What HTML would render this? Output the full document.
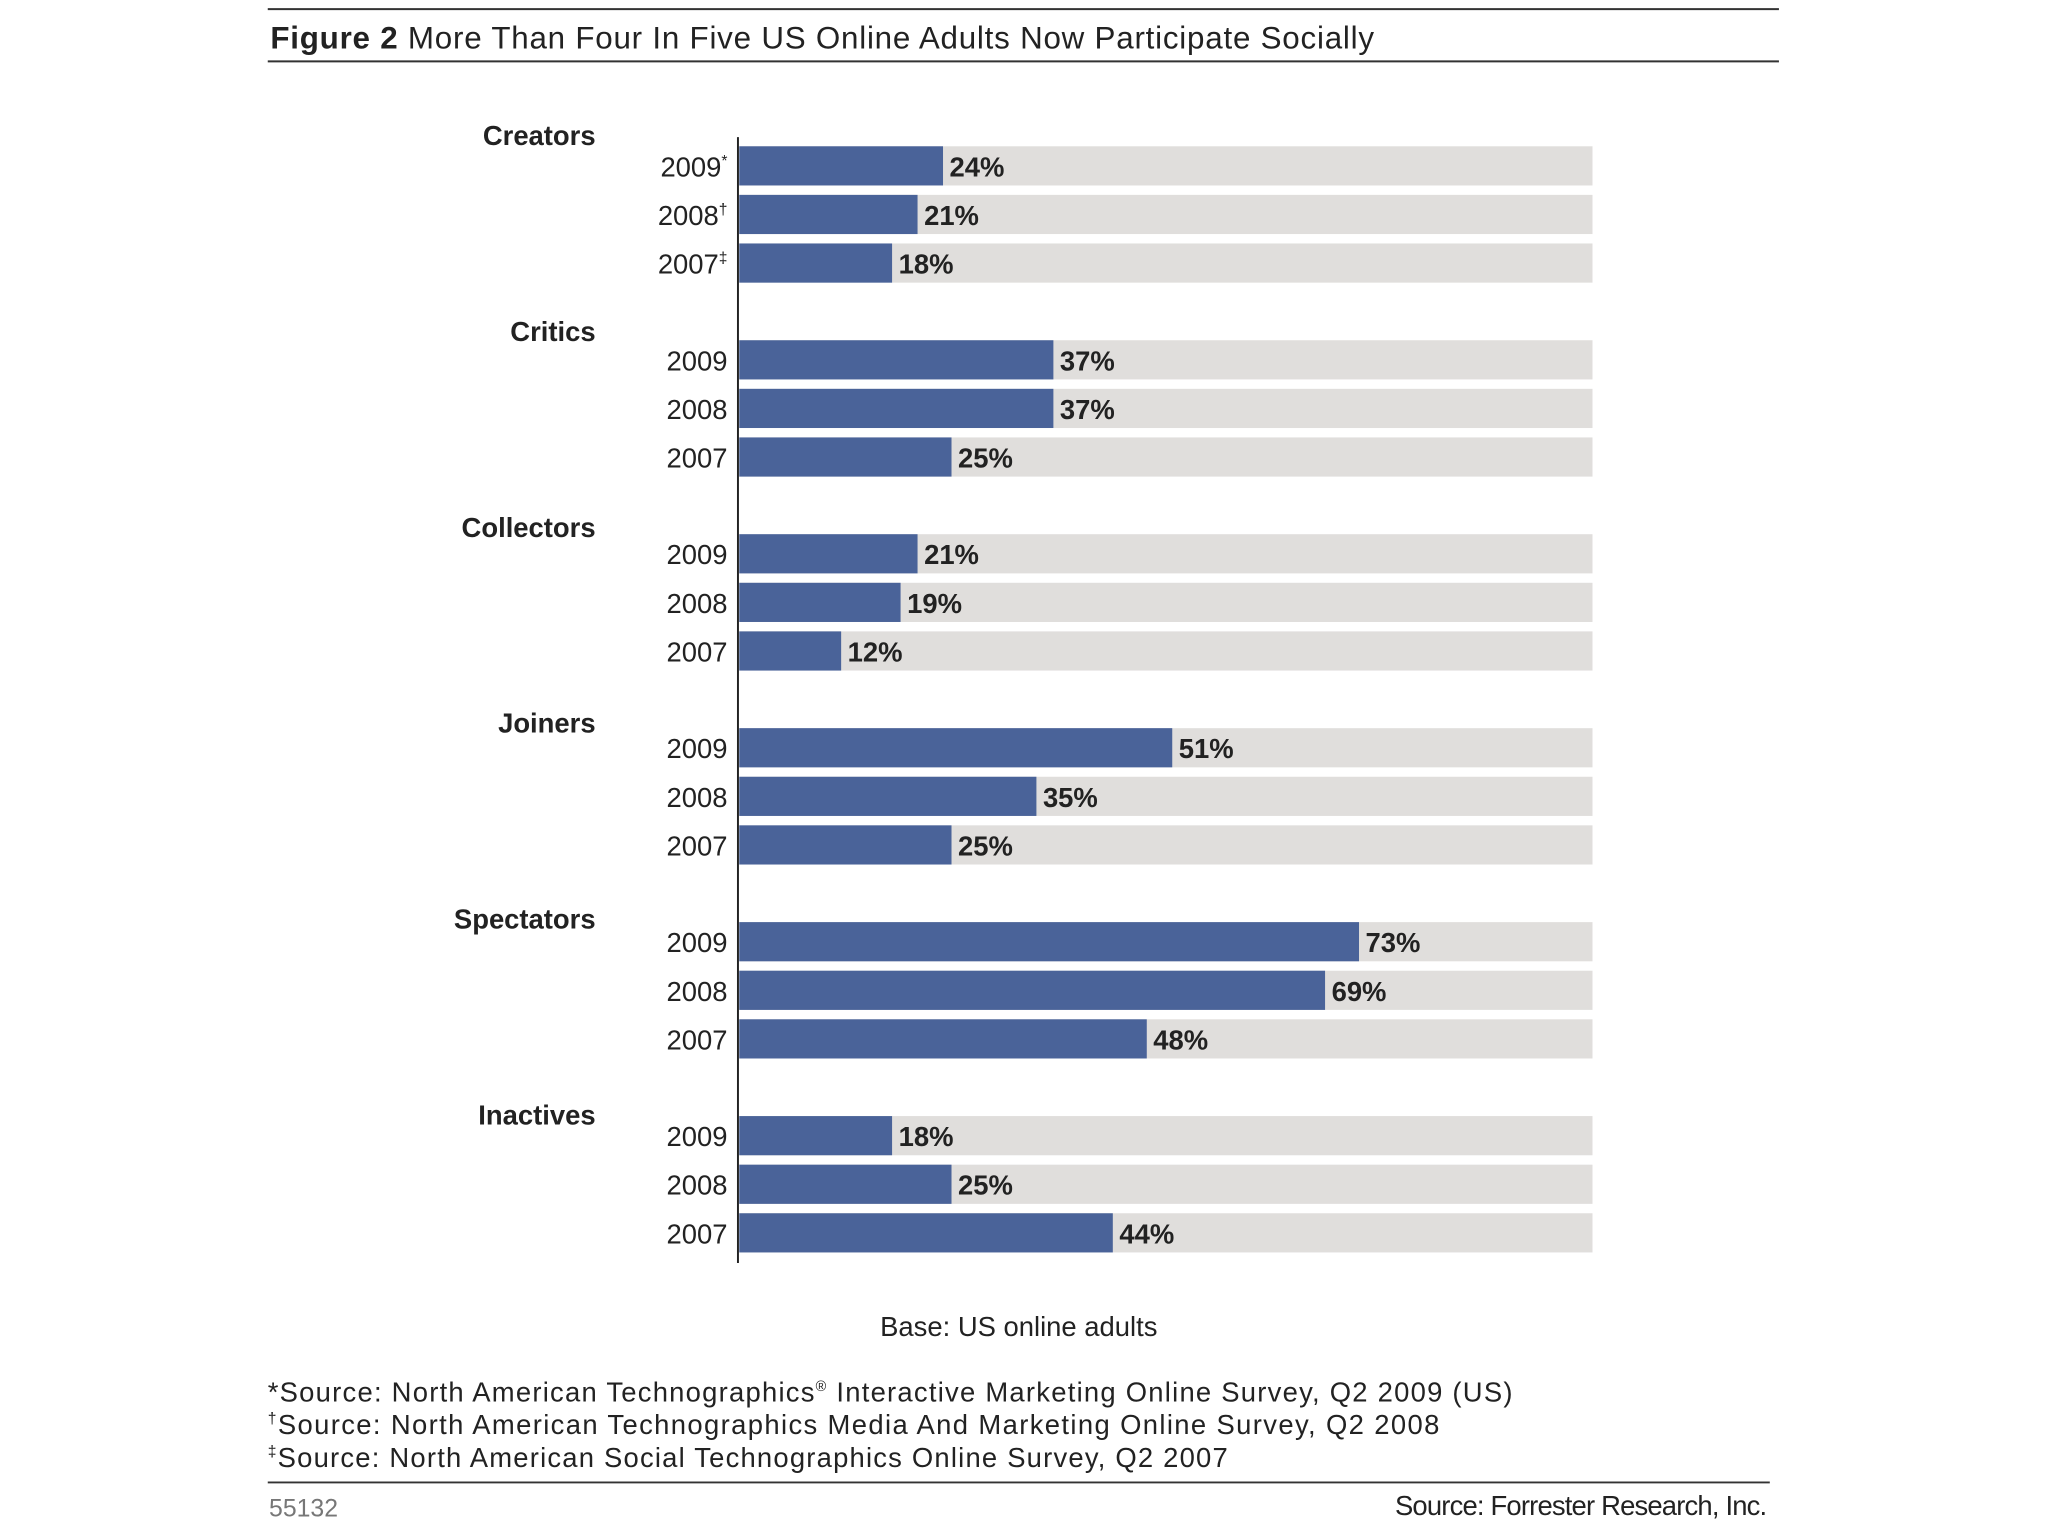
<!DOCTYPE html>
<html><head><meta charset="utf-8">
<style>
html,body{margin:0;padding:0;background:#fff;}
svg{display:block;font-family:"Liberation Sans","DejaVu Sans",sans-serif;}
</style></head>
<body>
<svg id="chart" width="2048" height="1536" viewBox="0 0 1568 1176" xmlns="http://www.w3.org/2000/svg">
  <rect x="0" y="0" width="1568" height="1176" fill="#fff"/>
  <line x1="205" y1="7" x2="1362" y2="7" stroke="#333" stroke-width="1.5"/>
  <text x="207" y="37" font-size="24" fill="#222" textLength="845" lengthAdjust="spacing"><tspan font-weight="bold">Figure 2</tspan> More Than Four In Five US Online Adults Now Participate Socially</text>
  <line x1="205" y1="47" x2="1362" y2="47" stroke="#333" stroke-width="1.5"/>
  <g id="bars"></g>
  <line x1="565" y1="105" x2="565" y2="967" stroke="#222" stroke-width="1.5"/>
  <text x="780" y="1023" font-size="21" text-anchor="middle" fill="#222">Base: US online adults</text>
  <text x="205" y="1073" font-size="21" fill="#222" textLength="953" lengthAdjust="spacing">*Source: North American Technographics<tspan font-size="11" dy="-8">®</tspan><tspan dy="8"> Interactive Marketing Online Survey, Q2 2009 (US)</tspan></text>
  <text x="205" y="1098" font-size="21" fill="#222" textLength="897" lengthAdjust="spacing"><tspan font-size="12" dy="-8">†</tspan><tspan dy="8">Source: North American Technographics Media And Marketing Online Survey, Q2 2008</tspan></text>
  <text x="205" y="1123" font-size="21" fill="#222" textLength="735" lengthAdjust="spacing"><tspan font-size="12" dy="-8">‡</tspan><tspan dy="8">Source: North American Social Technographics Online Survey, Q2 2007</tspan></text>
  <line x1="205" y1="1135" x2="1355" y2="1135" stroke="#333" stroke-width="1.5"/>
  <text x="206" y="1161" font-size="19" fill="#777">55132</text>
  <text x="1353" y="1160" font-size="21" text-anchor="end" fill="#222" textLength="285" lengthAdjust="spacing">Source: Forrester Research, Inc.</text>
</svg>
<script>
const groups = ["Creators","Critics","Collectors","Joiners","Spectators","Inactives"];
const years = ["2009","2008","2007"];
const yearMarks = [["*","†","‡"],["","",""],["","",""],["","",""],["","",""],["","",""]];
const values = [[24,21,18],[37,37,25],[21,19,12],[51,35,25],[73,69,48],[18,25,44]];
const NS = "http://www.w3.org/2000/svg";
const g = document.getElementById("bars");
const x0 = 566, pxPerPct = 6.5, trackMax = 100.5;
function xScale(v){ return x0 + v*pxPerPct; }
function rowY(gi, ri){ return 127 + gi*148.5 + ri*37.2; }
function mk(tag, attrs){ const e=document.createElementNS(NS,tag); for(const k in attrs) e.setAttribute(k,attrs[k]); g.appendChild(e); return e; }
groups.forEach((name, gi) => {
  const gl = mk("text",{x:456,y:rowY(gi,0)-16+gi*1.5,"font-size":21,"font-weight":"bold","text-anchor":"end",fill:"#222"});
  gl.textContent = name;
  
  
  years.forEach((yr, ri) => {
    const v = values[gi][ri];
    const cy = rowY(gi, ri);
    const track = mk("rect",{x:x0,y:cy-15,width:xScale(trackMax)-x0,height:30,fill:"#e0dedc"});
    
    
    const bar = mk("rect",{x:x0,y:cy-15,width:xScale(v)-x0,height:30,fill:"#4a6399"});
    
    
    const yl = mk("text",{x:557,y:cy+8,"font-size":21,"text-anchor":"end",fill:"#222"});
    yl.textContent = yr;
    const mark = yearMarks[gi][ri];
    if (mark) { const t=document.createElementNS(NS,"tspan"); t.setAttribute("font-size","12"); t.setAttribute("dy","-8"); t.textContent=mark; yl.appendChild(t); }
    
    
    const vl = mk("text",{x:xScale(v)+5,y:cy+8,"font-size":21,"font-weight":"bold",fill:"#222"});
    vl.textContent = v + "%";
    
    
  });
});
</script>
</body></html>
